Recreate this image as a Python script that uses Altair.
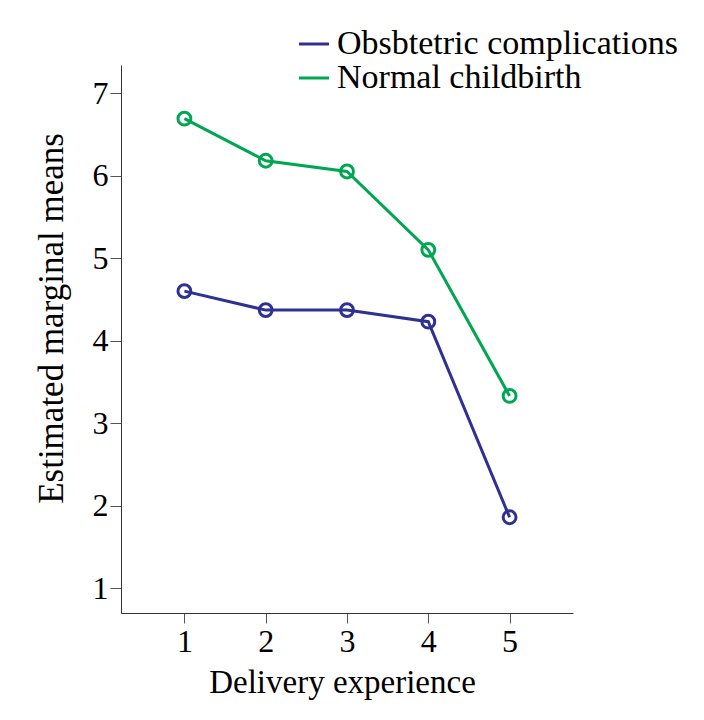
import altair as alt
import pandas as pd

experience = [1, 2, 3, 4, 5]
obstetric = [4.60, 4.37, 4.37, 4.23, 1.86]
normal = [6.69, 6.18, 6.05, 5.10, 3.33]
series_names = ["Obsbtetric complications", "Normal childbirth"]
series_colors = ["#2e3192", "#00a651"]
y_ticks = [1, 2, 3, 4, 5, 6, 7]

rows = []
for name, vals in zip(series_names, [obstetric, normal]):
    for x, v in zip(experience, vals):
        rows.append({"exp": x, "mean": v, "group": name})
df = pd.DataFrame(rows)

FONT = "Liberation Serif"

x_enc = alt.X(
    "exp:Q",
    scale=alt.Scale(domain=[0.22, 5.78], nice=False, zero=False),
    axis=alt.Axis(
        values=experience, format="d", title="Delivery experience",
        grid=False, domainColor="#333333", tickColor="#555555",
        tickSize=10, labelPadding=3, labelFontSize=32, labelFont=FONT,
        labelColor="black", labelBaseline="top",
        titleFont=FONT, titleFontSize=33, titleFontWeight="normal",
        titleColor="black", titleX=221, titleY=79,
        titleBaseline="alphabetic", titleAnchor="middle",
    ),
)
y_enc = alt.Y(
    "mean:Q",
    scale=alt.Scale(domain=[0.7, 7.34], nice=False, zero=False),
    axis=alt.Axis(
        values=y_ticks, format="d", title="Estimated marginal means",
        grid=False, domainColor="#333333", tickColor="#555555",
        tickSize=11, labelPadding=2, labelFontSize=32, labelFont=FONT,
        labelColor="black",
        titleFont=FONT, titleFontSize=35, titleFontWeight="normal",
        titleColor="black", titleX=-59, titleY=253, titleAngle=-90,
        titleBaseline="alphabetic", titleAlign="center",
    ),
)
color_scale = alt.Scale(domain=series_names, range=series_colors)

lines = alt.Chart(df).mark_line(strokeWidth=3).encode(
    x=x_enc, y=y_enc,
    color=alt.Color(
        "group:N", scale=color_scale, sort=series_names,
        legend=alt.Legend(
            title=None, orient="none", legendX=176, legendY=-38,
            symbolType="stroke", symbolSize=900, symbolStrokeWidth=3,
            labelFont=FONT, labelFontSize=34, labelColor="black",
            labelOffset=6, rowPadding=0, padding=0, labelLimit=600,
        ),
    ),
)
points = alt.Chart(df).mark_point(
    shape="circle", filled=False, size=165, strokeWidth=3, opacity=1
).encode(
    x="exp:Q", y="mean:Q",
    color=alt.Color("group:N", scale=color_scale, legend=None),
)

chart = (
    alt.layer(lines, points)
    .properties(
        width=452, height=548,
        autosize=alt.AutoSizeParams(type="none"),
        padding={"left": 113, "top": 57, "right": 123, "bottom": 99},
        background="white",
    )
    .configure_view(stroke=None)
)

chart.save("out.html", embed_options={"renderer": "svg", "actions": False})
